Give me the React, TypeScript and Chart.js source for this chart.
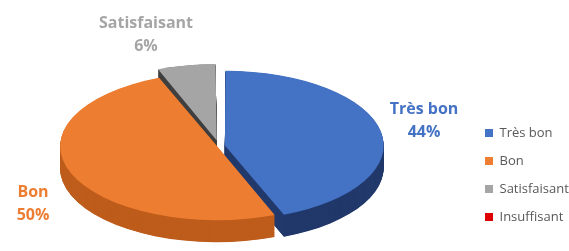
import React, { useEffect, useRef } from "react";
import { Chart, registerables } from "chart.js";

Chart.register(...registerables);

// ---- data ----
const categories = ["Très bon", "Bon", "Satisfaisant", "Insuffisant"];
const percentages = [44, 50, 6, 0];

// ---- styles ----
const topColors = ["#4472C4", "#ED7D31", "#A5A5A5", "#E00000"];
const sideColors = ["#22396B", "#BE5D1C", "#3F3F3F", "#800000"];
const labelColors = ["#4472C4", "#ED7D31", "#A5A5A5", "#C00000"];
const explode = [24, 8, 48, 0];
const labelOffsets: [number, number][] = [
  [205, -25],
  [-186, 58],
  [-73, -111.5],
];

const pie3d = {
  id: "pie3d",
  beforeDatasetsDraw(chart: any, _args: any, opts: any) {
    const meta = chart.getDatasetMeta(0);
    const arcs = meta.data;
    chart.$pie3dSaved = false;
    if (!arcs.length) return;
    const { x: cx, y: cy } = arcs[0];
    const ctx = chart.ctx;
    ctx.save();
    chart.$pie3dSaved = true;
    ctx.translate(cx, cy);
    ctx.scale(1, opts.tilt);
    ctx.translate(-cx, -cy);
    const layers = Math.round(opts.depth / opts.tilt);
    for (let d = layers; d >= 1; d--) {
      ctx.save();
      ctx.translate(0, d);
      arcs.forEach((arc: any, i: number) => {
        const proxy = Object.create(arc);
        proxy.options = { ...arc.options, backgroundColor: sideColors[i], borderWidth: 0 };
        proxy.draw(ctx);
      });
      ctx.restore();
    }
  },
  afterDatasetsDraw(chart: any) {
    if (chart.$pie3dSaved) chart.ctx.restore();
    chart.$pie3dSaved = false;
  },
};

const sliceLabels = {
  id: "sliceLabels",
  afterDraw(chart: any) {
    const arcs = chart.getDatasetMeta(0).data;
    if (!arcs.length) return;
    const { x: cx, y: cy } = arcs[0];
    const ctx = chart.ctx;
    ctx.save();
    ctx.font = "bold 16px 'Open Sans'";
    ctx.textAlign = "center";
    ctx.textBaseline = "middle";
    labelOffsets.forEach(([dx, dy], i) => {
      if (!percentages[i]) return;
      ctx.fillStyle = labelColors[i];
      ctx.fillText(categories[i], cx + dx, cy + dy - 11.5);
      ctx.fillText(percentages[i] + "%", cx + dx, cy + dy + 11.5);
    });
    ctx.restore();
  },
};

export default function App() {
  const ref = useRef<HTMLCanvasElement>(null);
  useEffect(() => {
    if (!ref.current) return;
    const chart = new Chart(ref.current, {
      type: "pie",
      data: {
        labels: categories,
        datasets: [
          {
            data: percentages,
            backgroundColor: topColors,
            borderWidth: 0,
            offset: explode,
            radius: 155,
            clip: false,
          } as any,
        ],
      },
      options: {
        animation: false,
        responsive: true,
        maintainAspectRatio: false,
        events: [],
        rotation: 0,
        layout: { padding: { left: 0, right: 0, top: 53.5, bottom: 12.5 } },
        plugins: {
          tooltip: { enabled: false },
          legend: {
            position: "right",
            align: "end",
            maxWidth: 99,
            labels: {
              boxWidth: 8,
              boxHeight: 8,
              padding: 15,
              color: "#595959",
              font: { family: "'Open Sans'", size: 13 },
            },
          },
          pie3d: { tilt: 0.47, depth: 22 },
        } as any,
      },
      plugins: [pie3d, sliceLabels],
    });
    return () => chart.destroy();
  }, []);
  return (
    <div style={{ position: "fixed", inset: 0, overflow: "hidden" }}>
      <div style={{ position: "absolute", left: -32, top: 0, width: 601, height: 251 }}>
        <canvas ref={ref} />
      </div>
    </div>
  );
}
